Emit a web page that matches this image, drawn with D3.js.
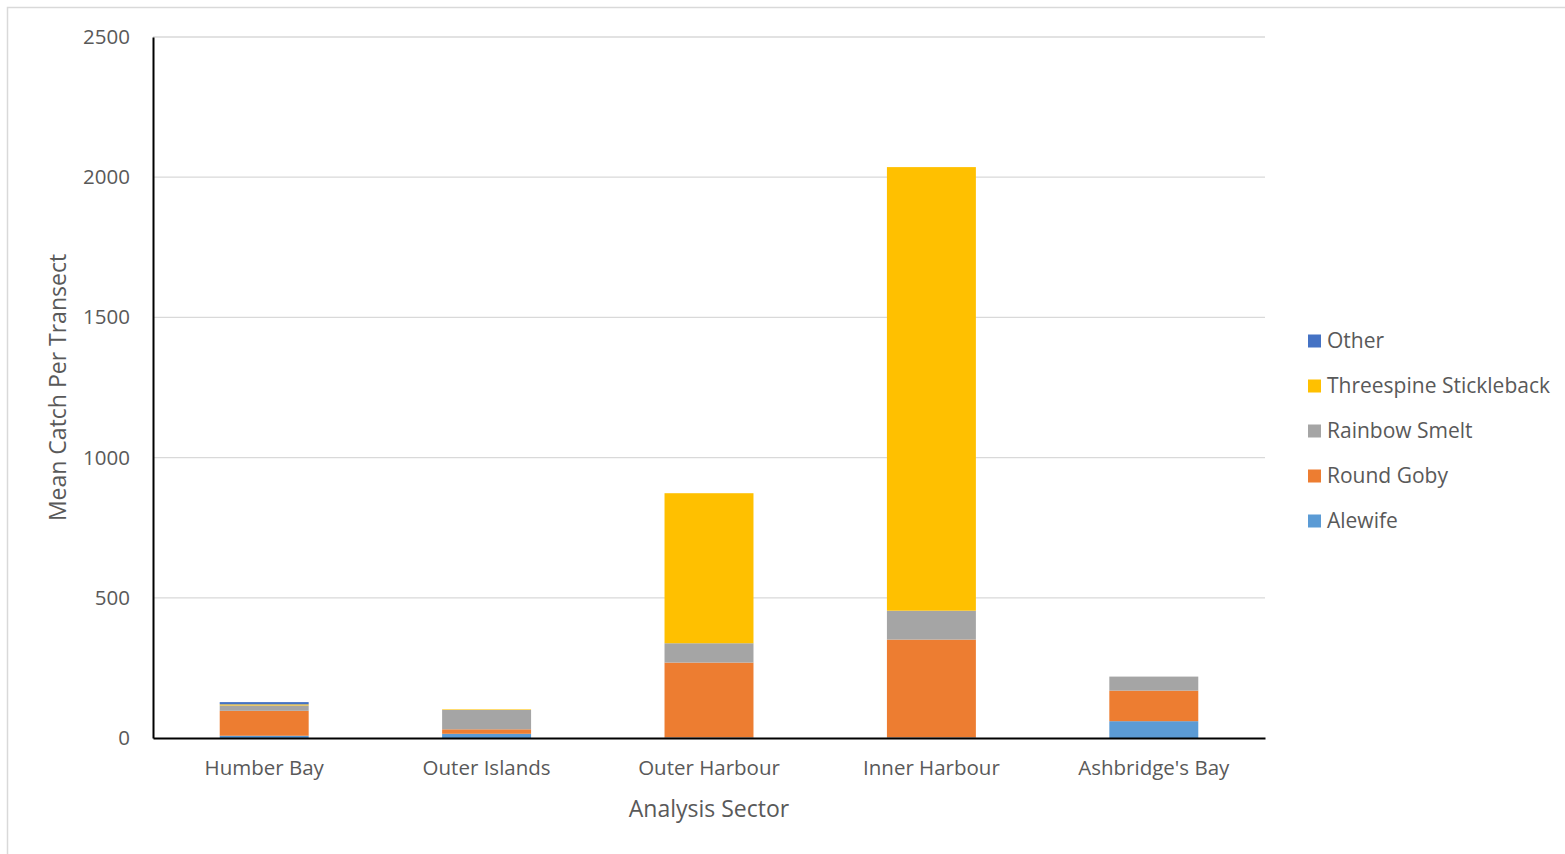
<!DOCTYPE html>
<html>
<head>
<meta charset="utf-8">
<script src="https://cdn.jsdelivr.net/npm/d3@7"></script>
<style>
  html, body { margin: 0; padding: 0; background: #fff; }
  svg { display: block; font-family: "Open Sans", "Noto Sans", sans-serif; }
</style>
</head>
<body>
<svg id="chart" width="1565" height="854"></svg>
<script>
const categories = ["Humber Bay", "Outer Islands", "Outer Harbour", "Inner Harbour", "Ashbridge's Bay"];
const seriesNames = ["Alewife", "Round Goby", "Rainbow Smelt", "Threespine Stickleback", "Other"];
const alewife     = [8, 15, 2, 2, 60];
const roundGoby   = [89, 16, 267, 349, 109];
const rainbowSmelt = [19, 69, 69, 103, 50];
const stickleback = [4, 2, 535, 1582, 0];
const other       = [8, 0, 0, 0, 0];
const yTicks = [0, 500, 1000, 1500, 2000, 2500];
const colors = ["#5b9bd5", "#ed7d31", "#a5a5a5", "#ffc000", "#4472c4"];

const seriesValues = [alewife, roundGoby, rainbowSmelt, stickleback, other];
const rows = categories.map((c, i) => {
  const r = { cat: c };
  seriesNames.forEach((s, k) => r[s] = seriesValues[k][i]);
  return r;
});
const stacked = d3.stack().keys(seriesNames)(rows);

const svg = d3.select("#chart");
const mLeft = 153, mRight = 1265, mTop = 37, mBottom = 738;

// chart border
svg.append("rect").attr("x", 7.5).attr("y", 7.5).attr("width", 1700).attr("height", 1000)
  .attr("fill", "none").attr("stroke", "#d9d9d9").attr("stroke-width", 1.5);

const x = d3.scaleBand().domain(categories).range([mLeft, mRight]).padding(0);
const y = d3.scaleLinear().domain([0, 2500]).range([mBottom, mTop]);

// gridlines
svg.append("g").selectAll("line").data(yTicks.filter(t => t > 0)).join("line")
  .attr("x1", mLeft).attr("x2", mRight)
  .attr("y1", d => y(d)).attr("y2", d => y(d))
  .attr("stroke", "#d9d9d9").attr("stroke-width", 1.3);

// bars
const bw = x.bandwidth() * 0.4;
svg.append("g").selectAll("g").data(stacked).join("g")
  .attr("fill", (d, i) => colors[i])
  .selectAll("rect").data(d => d).join("rect")
  .attr("x", d => x(d.data.cat) + (x.bandwidth() - bw) / 2)
  .attr("width", bw)
  .attr("y", d => y(d[1]))
  .attr("height", d => Math.max(0, y(d[0]) - y(d[1])));

// y axis
const yAxis = d3.axisLeft(y).tickValues(yTicks).tickFormat(d3.format("d")).tickSize(0).tickPadding(23);
const gy = svg.append("g").attr("transform", `translate(${mLeft},0)`).call(yAxis);
gy.select(".domain").attr("stroke", "#000").attr("stroke-width", 2);
gy.selectAll("text").attr("fill", "#595959").style("font-size", "20.5px")
  .style("font-family", "'Open Sans', sans-serif");

// x axis
const xAxis = d3.axisBottom(x).tickSize(0).tickPadding(22);
const gx = svg.append("g").attr("transform", `translate(0,${mBottom})`).call(xAxis);
gx.select(".domain").attr("stroke", "#000").attr("stroke-width", 2.2);
gx.selectAll("text").attr("fill", "#595959").style("font-size", "20.5px")
  .style("font-family", "'Open Sans', sans-serif");

// axis titles
svg.append("text").attr("x", (mLeft + mRight) / 2).attr("y", 817)
  .attr("text-anchor", "middle").attr("fill", "#595959")
  .style("font-size", "23px").text("Analysis Sector");
svg.append("text").attr("transform", `translate(66,${(mTop + mBottom) / 2}) rotate(-90)`)
  .attr("text-anchor", "middle").attr("fill", "#595959")
  .style("font-size", "23px").text("Mean Catch Per Transect");

// legend (reverse order)
const legendItems = seriesNames.map((s, i) => ({ name: s, color: colors[i] })).reverse();
const lg = svg.append("g").selectAll("g").data(legendItems).join("g")
  .attr("transform", (d, i) => `translate(1308,${341 + i * 45})`);
lg.append("rect").attr("x", 0).attr("y", -6.5).attr("width", 13).attr("height", 13)
  .attr("fill", d => d.color);
lg.append("text").attr("x", 19).attr("y", 0).attr("dy", "0.35em")
  .attr("fill", "#595959").style("font-size", "21px").text(d => d.name);
</script>
</body>
</html>
